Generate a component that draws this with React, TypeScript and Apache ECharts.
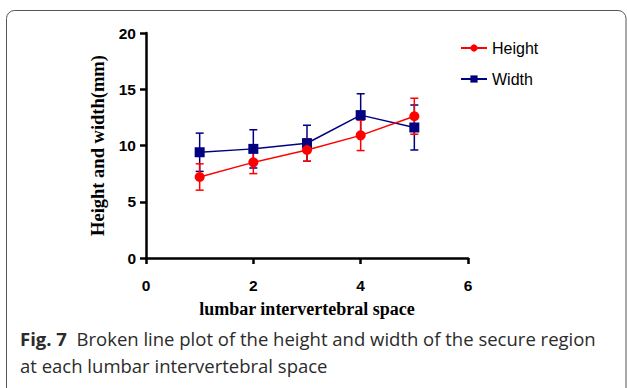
import React, { useEffect, useRef } from "react";
import * as echarts from "echarts";

const xValues = [1, 2, 3, 4, 5];
const heightMean = [7.2, 8.5, 9.6, 10.9, 12.6];
const heightSD = [1.17, 1.0, 1.0, 1.35, 1.6];
const widthMean = [9.4, 9.7, 10.2, 12.7, 11.6];
const widthSD = [1.7, 1.7, 1.6, 1.9, 2.0];
const seriesNames = ["Height", "Width"];
const yTicks = [0, 5, 10, 15, 20];
const xTicks = [0, 2, 4, 6];

const RED = "#ff0000";
const BLUE = "#000080";

function errorSeries(name: string, mean: number[], sd: number[], color: string) {
  return {
    type: "custom",
    name: name + "-err",
    z: 1,
    silent: true,
    data: xValues.map((x, i) => [x, mean[i] - sd[i], mean[i] + sd[i]]),
    encode: { x: 0, y: [1, 2] },
    renderItem: (params: any, api: any) => {
      const x = api.value(0);
      const lo = api.coord([x, api.value(1)]);
      const hi = api.coord([x, api.value(2)]);
      const hw = 4;
      const style = { stroke: color, lineWidth: 1.5 };
      return {
        type: "group",
        children: [
          { type: "line", shape: { x1: lo[0], y1: lo[1], x2: hi[0], y2: hi[1] }, style },
          { type: "line", shape: { x1: lo[0] - hw, y1: lo[1], x2: lo[0] + hw, y2: lo[1] }, style },
          { type: "line", shape: { x1: hi[0] - hw, y1: hi[1], x2: hi[0] + hw, y2: hi[1] }, style },
        ],
      };
    },
  };
}

export default function App() {
  const ref = useRef<HTMLDivElement>(null);
  useEffect(() => {
    if (!ref.current) return;
    const chart = echarts.init(ref.current, undefined, { renderer: "svg" });
    chart.setOption({
      animation: false,
      backgroundColor: "#ffffff",
      grid: { left: 146, right: 159, top: 33, bottom: 130 },
      legend: {
        data: seriesNames,
        orient: "vertical",
        left: 455,
        top: 35,
        itemGap: 15,
        itemWidth: 26,
        itemHeight: 9,
        textStyle: { fontFamily: "Liberation Sans", fontSize: 16, color: "#000" },
      },
      xAxis: {
        type: "value",
        min: 0,
        max: 6,
        interval: 2,
        name: "lumbar intervertebral space",
        nameLocation: "middle",
        nameGap: 42,
        nameTextStyle: { fontFamily: "Liberation Serif", fontWeight: "bold", fontSize: 18, color: "#000" },
        axisLine: { lineStyle: { color: "#000", width: 2.5 } },
        axisTick: { show: true, length: 6, lineStyle: { color: "#000", width: 2.5 } },
        axisLabel: {
          fontFamily: "Liberation Sans",
          fontWeight: "bold",
          fontSize: 15.5,
          color: "#000",
          margin: 19,
          formatter: (v: number) => (xTicks.includes(v) ? String(v) : ""),
        },
        splitLine: { show: false },
      },
      yAxis: {
        type: "value",
        min: 0,
        max: 20,
        interval: 5,
        name: "Height and width(mm)",
        nameLocation: "middle",
        nameGap: 31,
        nameTextStyle: { fontFamily: "Liberation Serif", fontWeight: "bold", fontSize: 18.5, color: "#000" },
        axisLine: { show: true, lineStyle: { color: "#000", width: 2.5 } },
        axisTick: { show: true, length: 6, lineStyle: { color: "#000", width: 2.5 } },
        axisLabel: {
          fontFamily: "Liberation Sans",
          fontWeight: "bold",
          fontSize: 15.5,
          color: "#000",
          margin: 10,
          formatter: (v: number) => (yTicks.includes(v) ? String(v) : ""),
        },
        splitLine: { show: false },
      },
      series: [
        errorSeries("Width", widthMean, widthSD, BLUE),
        errorSeries("Height", heightMean, heightSD, RED),
        {
          type: "line",
          name: "Width",
          z: 3,
          data: xValues.map((x, i) => [x, widthMean[i]]),
          symbol: "rect",
          symbolSize: 10,
          itemStyle: { color: BLUE },
          lineStyle: { color: BLUE, width: 1.5 },
        },
        {
          type: "line",
          name: "Height",
          z: 4,
          data: xValues.map((x, i) => [x, heightMean[i]]),
          symbol: "circle",
          symbolSize: 10,
          itemStyle: { color: RED },
          lineStyle: { color: RED, width: 1.5 },
        },
      ],
      graphic: [
        {
          type: "rect",
          z: -10,
          shape: { x: 6.5, y: 10.5, width: 619.5, height: 390, r: 8 },
          style: { fill: "none", stroke: "#555", lineWidth: 1 },
        },
        {
          type: "text",
          left: 20,
          top: 329,
          style: {
            text: "{b|Fig. 7}  Broken line plot of the height and width of the secure region",
            fontFamily: "Open Sans",
            fontSize: 18.5,
            fill: "#2b2b2b",
            rich: {
              b: { fontFamily: "Open Sans", fontWeight: "bold", fontSize: 18.5, fill: "#2b2b2b" },
            },
          },
        },
        {
          type: "text",
          left: 20,
          top: 356,
          style: {
            text: "at each lumbar intervertebral space",
            fontFamily: "Open Sans",
            fontSize: 18.5,
            fill: "#2b2b2b",
          },
        },
      ],
    });
    return () => chart.dispose();
  }, []);
  return (
    <div
      ref={ref}
      style={{ position: "fixed", left: 0, top: 0, width: 627, height: 388, background: "#fff" }}
    />
  );
}
